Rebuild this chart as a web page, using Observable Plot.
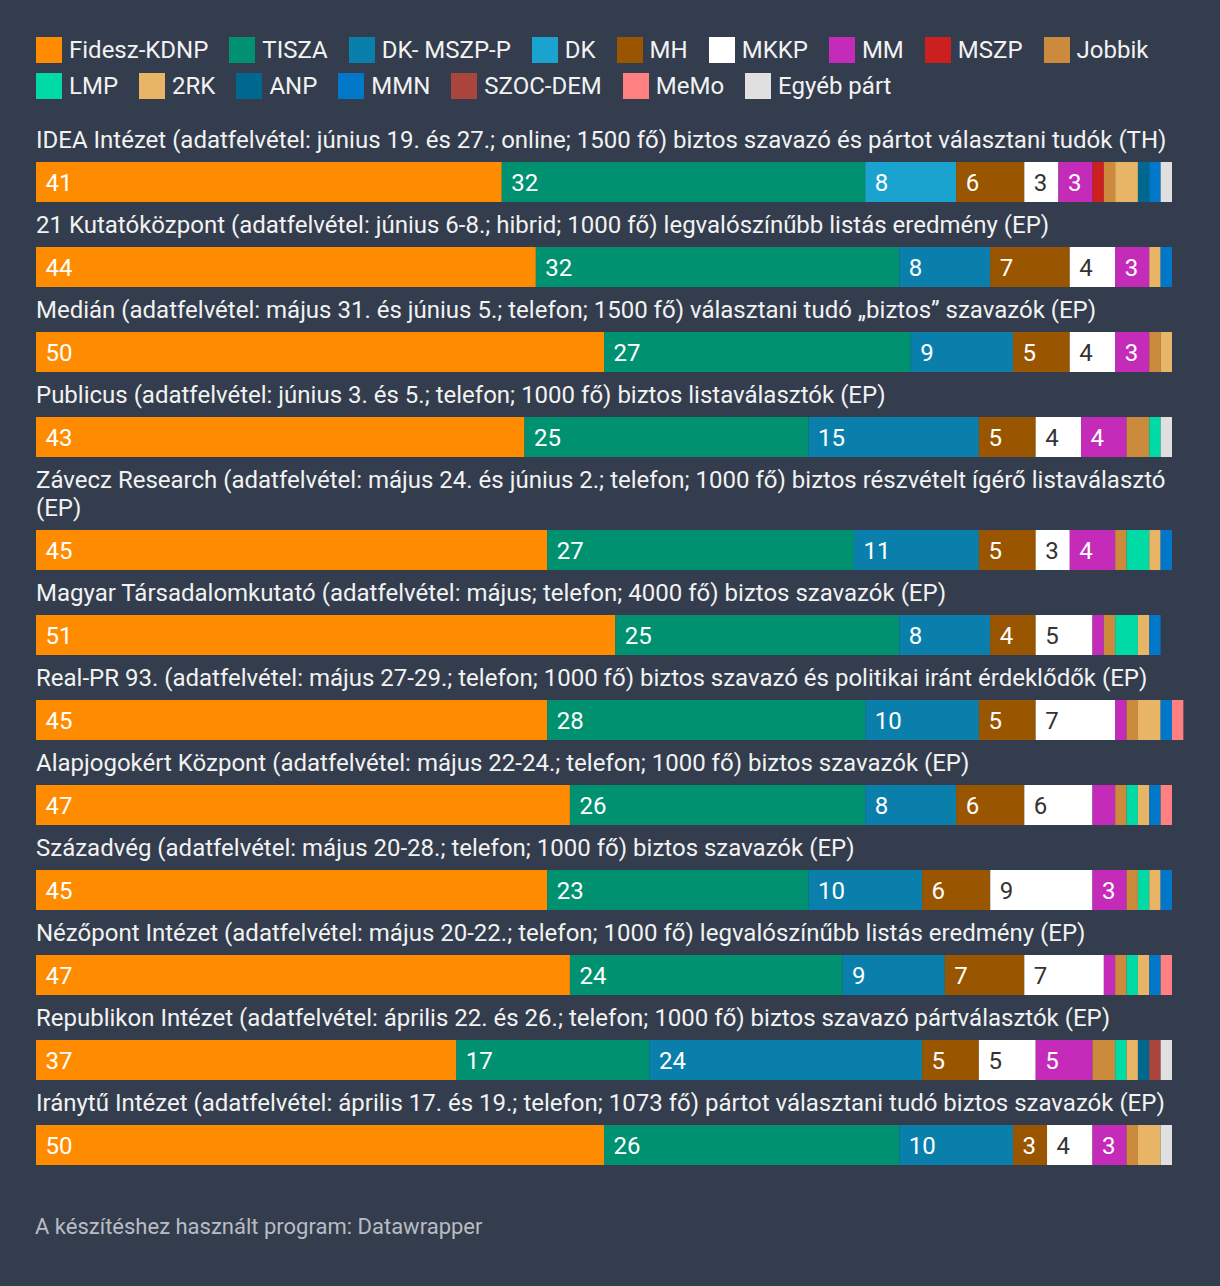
<!DOCTYPE html>
<html>
<head>
<meta charset="utf-8">
<script src="https://cdn.jsdelivr.net/npm/d3@7"></script>
<script src="https://cdn.jsdelivr.net/npm/@observablehq/plot@0.6"></script>
<style>
  html, body { margin: 0; padding: 0; background: #333d4d; }
  body { width: 1220px; height: 1286px; font-family: Roboto, "Noto Sans", sans-serif; color: #f2f2f2; overflow: hidden; }
  #legend { display: flex; flex-wrap: wrap; padding: 32px 0 0 36px; width: 1170px; }
  .li { display: flex; align-items: center; height: 36px; margin-right: 21px; font-size: 24px; }
  .sw { width: 26px; height: 26px; margin-right: 7px; }
  .row .title { font-size: 24px; line-height: 28px; padding: 9px 0 0 36px; width: 1152px; margin-bottom: 8px; }
  .row svg { display: block; }
  #rows { margin-top: 13px; }
  #foot { font-size: 22px; color: #b9bcc2; padding-left: 35px; margin-top: 49px; }
</style>
</head>
<body>
<div id="legend"></div>
<div id="rows"></div>
<div id="foot">A készítéshez használt program: Datawrapper</div>
<script>
const parties = ["Fidesz-KDNP","TISZA","DK- MSZP-P","DK","MH","MKKP","MM","MSZP","Jobbik","LMP","2RK","ANP","MMN","SZOC-DEM","MeMo","Egyéb párt"];
const colors = ["#ff8c00","#009270","#0a7fab","#1ba3d0","#995500","#ffffff","#c42bb8","#cc2020","#cc8a3c","#00dba6","#e8b466","#00678f","#0077c8","#a9453c","#ff8080","#e0e0e0"];

const titles = [
  "IDEA Intézet (adatfelvétel: június 19. és 27.; online; 1500 fő) biztos szavazó és pártot választani tudók (TH)",
  "21 Kutatóközpont (adatfelvétel: június 6-8.; hibrid; 1000 fő) legvalószínűbb listás eredmény (EP)",
  "Medián (adatfelvétel: május 31. és június 5.; telefon; 1500 fő) választani tudó „biztos” szavazók (EP)",
  "Publicus (adatfelvétel: június 3. és 5.; telefon; 1000 fő) biztos listaválasztók (EP)",
  "Závecz Research (adatfelvétel: május 24. és június 2.; telefon; 1000 fő) biztos részvételt ígérő listaválasztó (EP)",
  "Magyar Társadalomkutató (adatfelvétel: május; telefon; 4000 fő) biztos szavazók (EP)",
  "Real-PR 93. (adatfelvétel: május 27-29.; telefon; 1000 fő) biztos szavazó és politikai iránt érdeklődők (EP)",
  "Alapjogokért Központ (adatfelvétel: május 22-24.; telefon; 1000 fő) biztos szavazók (EP)",
  "Századvég (adatfelvétel: május 20-28.; telefon; 1000 fő) biztos szavazók (EP)",
  "Nézőpont Intézet (adatfelvétel: május 20-22.; telefon; 1000 fő) legvalószínűbb listás eredmény (EP)",
  "Republikon Intézet (adatfelvétel: április 22. és 26.; telefon; 1000 fő) biztos szavazó pártválasztók (EP)",
  "Iránytű Intézet (adatfelvétel: április 17. és 19.; telefon; 1073 fő) pártot választani tudó biztos szavazók (EP)"
];

// values per party, in the order of `parties`
const fideszKdnp = [41,44,50,43,45,51,45,47,45,47,37,50];
const tisza      = [32,32,27,25,27,25,28,26,23,24,17,26];
const dkMszpP    = [0,8,9,15,11,8,10,8,10,9,24,10];
const dk         = [8,0,0,0,0,0,0,0,0,0,0,0];
const mh         = [6,7,5,5,5,4,5,6,6,7,5,3];
const mkkp       = [3,4,4,4,3,5,7,6,9,7,5,4];
const mm         = [3,3,3,4,4,1,1,2,3,1,5,3];
const mszp       = [1,0,0,0,0,0,0,0,0,0,0,0];
const jobbik     = [1,0,1,2,1,1,1,1,1,1,2,1];
const lmp        = [0,0,0,1,2,2,0,1,1,1,1,0];
const rk2        = [2,1,1,0,1,1,2,1,1,1,1,2];
const anp        = [1,0,0,0,0,0,0,0,0,0,1,0];
const mmn        = [1,1,0,0,1,1,1,1,1,1,0,0];
const szocDem    = [0,0,0,0,0,0,0,0,0,0,1,0];
const memo       = [0,0,0,0,0,0,1,1,0,1,0,0];
const egyeb      = [1,0,0,1,0,0,0,0,0,0,1,1];
const series = [fideszKdnp,tisza,dkMszpP,dk,mh,mkkp,mm,mszp,jobbik,lmp,rk2,anp,mmn,szocDem,memo,egyeb];

// legend
const legend = document.getElementById("legend");
parties.forEach((p, i) => {
  const item = document.createElement("div");
  item.className = "li";
  const sw = document.createElement("span");
  sw.className = "sw";
  sw.style.background = colors[i];
  item.appendChild(sw);
  item.appendChild(document.createTextNode(p));
  legend.appendChild(item);
});

const rowsEl = document.getElementById("rows");
titles.forEach((t, r) => {
  const data = parties.map((p, i) => ({party: p, value: series[i][r]})).filter(d => d.value > 0);
  const row = document.createElement("div");
  row.className = "row";
  const title = document.createElement("div");
  title.className = "title";
  title.textContent = t;
  row.appendChild(title);
  const chart = Plot.plot({
    width: 1220,
    height: 40,
    marginLeft: 36,
    marginRight: 48,
    marginTop: 0,
    marginBottom: 0,
    style: {background: "transparent", fontFamily: "Roboto, sans-serif"},
    x: {domain: [0, 100], axis: null},
    color: {domain: parties, range: colors},
    marks: [
      Plot.barX(data, {x: "value", fill: "party"}),
      Plot.text(data, Plot.stackX1({x: "value", text: d => (d.value >= 3 && d.party !== "MKKP") ? String(d.value) : null, fill: "#ffffff", textAnchor: "start", dx: 9, dy: 1, fontSize: 24})),
      Plot.text(data, Plot.stackX1({x: "value", text: d => (d.value >= 3 && d.party === "MKKP") ? String(d.value) : null, fill: "#333333", textAnchor: "start", dx: 9, dy: 1, fontSize: 24}))
    ]
  });
  row.appendChild(chart);
  rowsEl.appendChild(row);
});
</script>
</body>
</html>
